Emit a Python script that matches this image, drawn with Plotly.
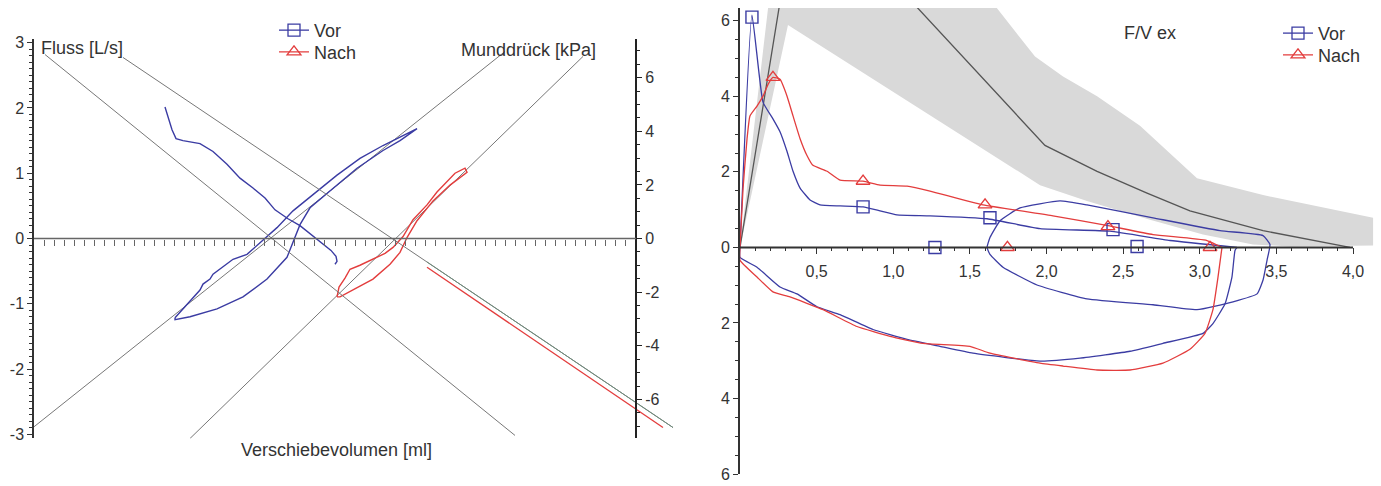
import numpy as np
import plotly.graph_objects as go

# ---------------- Left panel: Verschiebevolumen [ml] vs Fluss [L/s] / Munddruck [kPa]
vor_loop_vol = [-31.89, -29.50, -26.91, -26.31, -24.92, -24.32, -22.92, -20.33, -17.54, -14.35, -11.56, -8.37,
                -3.59, 0.40, 4.98, 9.57, 13.56, 16.35, 12.96, 9.57, 4.39, -0.40, -4.98, -6.98, -7.97, -9.57,
                -13.55, -18.34, -23.52, -28.90, -31.89, -31.89]
vor_loop_flow = [-1.212, -1.015, -0.788, -0.697, -0.621, -0.545, -0.470, -0.318, -0.242, -0.030, 0.167, 0.424,
                 0.727, 0.970, 1.227, 1.424, 1.576, 1.682, 1.500, 1.348, 1.076, 0.773, 0.470, 0.212, 0.015, -0.288,
                 -0.621, -0.894, -1.076, -1.197, -1.242, -1.212]
nach_loop_vol = [0.40, 0.80, 1.99, 2.99, 4.98, 7.57, 9.97, 11.56, 13.56, 15.55, 18.34, 20.33, 22.33, 23.92, 25.92,
                 26.32, 22.93, 19.54, 16.35, 14.35, 12.96, 10.97, 7.57, 3.99, 1.00, 0.40]
nach_loop_flow = [-0.894, -0.742, -0.606, -0.470, -0.409, -0.318, -0.227, -0.136, 0.030, 0.288, 0.515, 0.712,
                  0.879, 1.000, 1.076, 1.015, 0.818, 0.576, 0.273, 0.015, -0.212, -0.394, -0.621, -0.773, -0.894,
                  -0.894]
vor_shutter_vol = [-33.89, -32.49, -31.69, -30.30, -26.91, -24.32, -21.53, -18.94, -16.35, -13.95, -11.96, -9.37,
                   -6.98, -4.58, -2.39, -0.80, 0.20, 0.40, 0.00]
vor_shutter_p = [4.908, 4.059, 3.727, 3.653, 3.542, 3.247, 2.768, 2.251, 1.882, 1.513, 1.070, 0.738, 0.480, 0.111,
                 -0.221, -0.443, -0.664, -0.849, -0.959]
nach_shutter_vol = [18.34, 41.86, 65.38]
nach_shutter_p = [-1.070, -4.059, -7.048]
fitA_vol = [-57.81, 35.88]
fitA_p = [6.863, -7.343]
fitB_vol = [-42.26, 67.38]
fitB_p = [6.753, -7.048]
fitB2_vol = [18.34, 67.38]
fitB2_p = [-0.875, -7.048]
fitC_vol = [-60.20, 33.89]
fitC_flow = [-2.894, 2.864]
fitD_vol = [-28.90, 49.44]
fitD_flow = [-3.061, 2.788]

flow_ticks = [-3, -2, -1, 0, 1, 2, 3]
flow_ticktext = ["-3", "-2", "-1", "0", "1", "2", "3"]
p_ticks = [-6, -4, -2, 0, 2, 4, 6]
p_ticktext = ["-6", "-4", "-2", "0", "2", "4", "6"]

# ---------------- Right panel: F/V ex (volume [L] vs flow [L/s])
vor_exp_vol = [0, 0.078, 0.150, 0.215, 0.261, 0.307, 0.346, 0.392, 0.457, 0.522, 0.653, 0.803, 0.914, 1.024,
               1.240, 1.612, 1.958, 2.414, 2.806, 3.243]
vor_exp_flow = [0, 6.152, 3.848, 3.403, 3.063, 2.539, 2.016, 1.571, 1.257, 1.126, 1.099, 1.073, 0.969, 0.864,
                0.838, 0.759, 0.497, 0.43, 0.183, 0]
vor_insp_vol = [3.243, 3.230, 3.210, 3.165, 3.086, 3.021, 2.760, 2.545, 2.219, 1.958, 1.520, 1.305, 1.090, 0.868,
                0.653, 0.502, 0.372, 0.261, 0.111, 0, 0]
vor_insp_flow = [0, -0.079, -0.785, -1.492, -2.016, -2.277, -2.539, -2.749, -2.932, -3.010, -2.801, -2.618,
                 -2.435, -2.173, -1.780, -1.571, -1.230, -1.047, -0.524, -0.262, 0]
vor_loop2_vol = [1.612, 1.631, 1.697, 1.827, 2.088, 2.264, 2.695, 3.132, 3.413, 3.458, 3.439, 3.413, 3.374, 3.217,
                 2.982, 2.695, 2.264, 1.938, 1.716, 1.631, 1.612]
vor_loop2_flow = [0, 0.262, 0.707, 1.047, 1.230, 1.126, 0.785, 0.445, 0.314, 0.079, -0.340, -0.864, -1.230,
                  -1.440, -1.649, -1.518, -1.361, -0.995, -0.524, -0.183, 0]
nach_exp_vol = [0, 0.020, 0.046, 0.065, 0.111, 0.150, 0.183, 0.215, 0.261, 0.307, 0.346, 0.392, 0.437, 0.476,
                0.568, 0.653, 0.803, 0.914, 1.090, 1.240, 1.586, 2.042, 2.401, 2.695, 3.047, 3.145]
nach_exp_flow = [0, 1.571, 2.880, 3.482, 3.743, 4.005, 4.319, 4.503, 4.450, 4.005, 3.482, 2.880, 2.435, 2.173,
                 2.016, 1.780, 1.754, 1.649, 1.623, 1.492, 1.126, 0.838, 0.576, 0.340, 0.183, 0]
nach_insp_vol = [3.145, 3.119, 3.086, 3.034, 2.936, 2.760, 2.545, 2.330, 2.108, 1.958, 1.631, 1.501, 1.194, 0.979,
                 0.763, 0.542, 0.326, 0.215, 0.111, 0, 0]
nach_insp_flow = [0, -0.785, -1.649, -2.277, -2.696, -3.063, -3.246, -3.246, -3.141, -3.063, -2.801, -2.618,
                  -2.539, -2.356, -2.094, -1.649, -1.309, -1.178, -0.785, -0.340, 0]
vor_mark_vol = [0.078, 0.803, 1.272, 1.631, 2.434, 2.591]
vor_mark_flow = [6.099, 1.073, 0, 0.785, 0.471, 0.026]
nach_mark_vol = [0.215, 0.803, 1.599, 1.745, 2.401, 3.067]
nach_mark_flow = [4.503, 1.754, 1.126, 0, 0.550, 0]
pred_vol = [0, 0.390, 1.99, 2.330, 2.656, 2.936, 3.413, 3.961, 3.98]
pred_flow = [0, 9.71, 2.70, 2.016, 1.440, 0.969, 0.445, 0.026, 0]
band_vol = [0, 0.377, 1.925, 2.108, 2.330, 2.610, 2.982, 3.413, 4.131, 4.131, 3.589, 3.347, 3.021, 2.675, 2.264,
            1.958, 0.313, 0]
band_flow = [0, 13.05, 5.052, 4.529, 4.005, 3.220, 1.832, 1.387, 0.785, 0.052, 0.026, 0.079, 0.340, 0.733, 1.230,
             1.649, 5.890, 0]

fv_xticks = [0.5, 1.0, 1.5, 2.0, 2.5, 3.0, 3.5, 4.0]
fv_xticktext = ["0,5", "1,0", "1,5", "2,0", "2,5", "3,0", "3,5", "4,0"]
fv_yticks = [-6, -4, -2, 0, 2, 4, 6]
fv_yticktext = ["6", "4", "2", "0", "2", "4", "6"]

BLUE = "#3b3ca3"
RED = "#e33d3d"
GRAY = "#777777"
FONT = "Liberation Sans, Arial, sans-serif"
TXT = "#333333"

W, H = 1381, 486
T, B = 6, 4
PH = H - T - B


def py(p):
    return (H - B - p) / PH


def px(p):
    return p / W


fig = go.Figure()

# ----- left panel traces
for xs, ys, ax, col in [(fitA_vol, fitA_p, "y3", GRAY), (fitB_vol, fitB_p, "y3", GRAY),
                        (fitB2_vol, fitB2_p, "y3", "#6f8c7c"),
                        (fitC_vol, fitC_flow, "y", GRAY), (fitD_vol, fitD_flow, "y", GRAY)]:
    fig.add_trace(go.Scatter(x=xs, y=ys, xaxis="x", yaxis=ax, mode="lines",
                             line=dict(color=col, width=1), showlegend=False, hoverinfo="skip"))

fig.add_trace(go.Scatter(x=vor_loop_vol, y=vor_loop_flow, xaxis="x", yaxis="y", mode="lines",
                         line=dict(color=BLUE, width=1.4), showlegend=False))
fig.add_trace(go.Scatter(x=vor_shutter_vol, y=vor_shutter_p, xaxis="x", yaxis="y3", mode="lines",
                         line=dict(color=BLUE, width=1.4), showlegend=False))
fig.add_trace(go.Scatter(x=nach_loop_vol, y=nach_loop_flow, xaxis="x", yaxis="y", mode="lines",
                         line=dict(color=RED, width=1.4), showlegend=False))
fig.add_trace(go.Scatter(x=nach_shutter_vol, y=nach_shutter_p, xaxis="x", yaxis="y3", mode="lines",
                         line=dict(color=RED, width=1.3), showlegend=False))


def legend_entry(name, sym, col, xa, ya, leg):
    return go.Scatter(x=[None], y=[None], xaxis=xa, yaxis=ya, mode="lines+markers", name=name,
                      line=dict(color=col, width=1.3),
                      marker=dict(symbol=sym, size=12, color=col, line=dict(width=1.3)),
                      legend=leg)


fig.add_trace(legend_entry("Vor", "square-open", BLUE, "x", "y", "legend"))
fig.add_trace(legend_entry("Nach", "triangle-up-open", RED, "x", "y", "legend3"))

# ----- right panel traces
fig.add_trace(go.Scatter(x=band_vol, y=band_flow, xaxis="x2", yaxis="y2", mode="lines", fill="toself",
                         fillcolor="#d9d9d9", line=dict(width=0), showlegend=False, hoverinfo="skip"))
fig.add_trace(go.Scatter(x=pred_vol, y=pred_flow, xaxis="x2", yaxis="y2", mode="lines",
                         line=dict(color="#555555", width=1.3), showlegend=False))
for xs, ys, col in [(vor_exp_vol, vor_exp_flow, BLUE), (vor_insp_vol, vor_insp_flow, BLUE),
                    (vor_loop2_vol, vor_loop2_flow, BLUE),
                    (nach_exp_vol, nach_exp_flow, RED), (nach_insp_vol, nach_insp_flow, RED)]:
    fig.add_trace(go.Scatter(x=xs, y=ys, xaxis="x2", yaxis="y2", mode="lines",
                             line=dict(color=col, width=1.3, shape="spline", smoothing=0.4), showlegend=False))
fig.add_trace(go.Scatter(x=vor_mark_vol, y=vor_mark_flow, xaxis="x2", yaxis="y2", mode="markers",
                         marker=dict(symbol="square-open", size=12, color=BLUE, line=dict(width=1.4)),
                         showlegend=False, cliponaxis=False))
fig.add_trace(go.Scatter(x=nach_mark_vol, y=nach_mark_flow, xaxis="x2", yaxis="y2", mode="markers",
                         marker=dict(symbol="triangle-up-open", size=12, color=RED, line=dict(width=1.4)),
                         showlegend=False, cliponaxis=False))
fig.add_trace(legend_entry("Vor", "square-open", BLUE, "x2", "y2", "legend2"))
fig.add_trace(legend_entry("Nach", "triangle-up-open", RED, "x2", "y2", "legend4"))

tickfont = dict(family=FONT, size=16, color=TXT)
labfont = dict(family=FONT, size=18, color=TXT)

left_y_dom = [py(443), py(39)]
right_y_dom = [py(479), py(8)]
left_zero = (left_y_dom[0] + left_y_dom[1]) / 2
right_zero = right_y_dom[0] + (6 / 12.34) * (right_y_dom[1] - right_y_dom[0])


def leg(xp, yp):
    return dict(x=px(xp), y=py(yp), xanchor="left", yanchor="top", bgcolor="rgba(0,0,0,0)",
                font=labfont, tracegroupgap=0)


fig.update_layout(
    width=W, height=H, margin=dict(l=0, r=0, t=T, b=B),
    paper_bgcolor="white", plot_bgcolor="white",
    font=dict(family=FONT, color=TXT),
    xaxis=dict(domain=[px(34), px(680)], range=[-60, 68.77], anchor="free", position=left_zero,
               showgrid=False, zeroline=False, showline=False, showticklabels=False,
               tickmode="array", tickvals=list(np.arange(-58, 60, 2)), ticks="outside", ticklen=6,
               tickcolor="#666666", tickwidth=1),
    yaxis=dict(domain=left_y_dom, range=[-3.06, 3.06], anchor="x", showgrid=False, zeroline=False,
               showline=True, linecolor="#333333", linewidth=1.5, tickmode="array", tickvals=flow_ticks,
               ticktext=flow_ticktext, ticks="outside", ticklen=5, tickcolor="#333333", tickfont=tickfont,
               ticklabeloverflow="allow",
               minor=dict(tickmode="array", tickvals=list(np.round(np.arange(-3, 3.01, 0.1), 2)),
                          ticks="outside", ticklen=3, tickcolor="#333333")),
    yaxis3=dict(overlaying="y", side="right", anchor="free", position=px(636), range=[-7.454, 7.454],
                showgrid=False, zeroline=False, showline=True, linecolor="#222222", linewidth=2,
                tickmode="array", tickvals=p_ticks, ticktext=p_ticktext, ticks="outside", ticklen=5,
                tickcolor="#222222", tickfont=tickfont, ticklabeloverflow="allow",
                minor=dict(tickmode="array", tickvals=list(np.arange(-7, 7.01, 0.5)), ticks="outside",
                           ticklen=3, tickcolor="#222222")),
    xaxis2=dict(domain=[px(740), px(1376)], range=[0, 4.15], anchor="free", position=right_zero,
                showgrid=False, zeroline=False, showline=False, tickmode="array", tickvals=fv_xticks,
                ticktext=fv_xticktext, ticks="outside", ticklen=6, tickcolor="#333333", tickfont=tickfont,
                ticklabelstandoff=3, ticklabeloverflow="allow",
                minor=dict(tickmode="array", tickvals=list(np.round(np.arange(0.1, 4.01, 0.1), 2)),
                           ticks="outside", ticklen=3, tickcolor="#333333")),
    yaxis2=dict(domain=right_y_dom, range=[-6, 6.34], anchor="x2", showgrid=False, zeroline=False,
                showline=True, linecolor="#333333", linewidth=2, tickmode="array", tickvals=fv_yticks,
                ticktext=fv_yticktext, ticks="outside", ticklen=5, tickcolor="#333333", tickfont=tickfont,
                ticklabeloverflow="allow",
                minor=dict(tickmode="array", tickvals=list(np.arange(-6, 6.01, 0.5)), ticks="outside",
                           ticklen=3, tickcolor="#333333")),
    legend=leg(274, 12),
    legend3=leg(274, 34),
    legend2=leg(1278, 15),
    legend4=leg(1278, 37),
    shapes=[
        dict(type="line", xref="x", yref="y", x0=-60, x1=60, y0=0, y1=0,
             line=dict(color="#666666", width=1.5)),
        dict(type="line", xref="x2", yref="y2", x0=0, x1=4.0, y0=0, y1=0,
             line=dict(color="#333333", width=2)),
    ],
    annotations=[
        dict(text="Fluss [L/s]", xref="paper", yref="paper", x=px(39), y=py(48), xanchor="left",
             yanchor="middle", showarrow=False, font=labfont),
        dict(text="Munddrück [kPa]", xref="paper", yref="paper", x=px(598), y=py(50), xanchor="right",
             yanchor="middle", showarrow=False, font=labfont),
        dict(text="Verschiebevolumen [ml]", xref="paper", yref="paper", x=px(336), y=py(455),
             xanchor="center", yanchor="middle", showarrow=False, font=labfont),
        dict(text="F/V ex", xref="paper", yref="paper", x=px(1122), y=py(33), xanchor="left",
             yanchor="middle", showarrow=False, font=labfont),
    ],
)

fig.write_html("out.html", config={"displayModeBar": False},
               post_script="document.body.style.margin='0';document.body.style.padding='0';")
